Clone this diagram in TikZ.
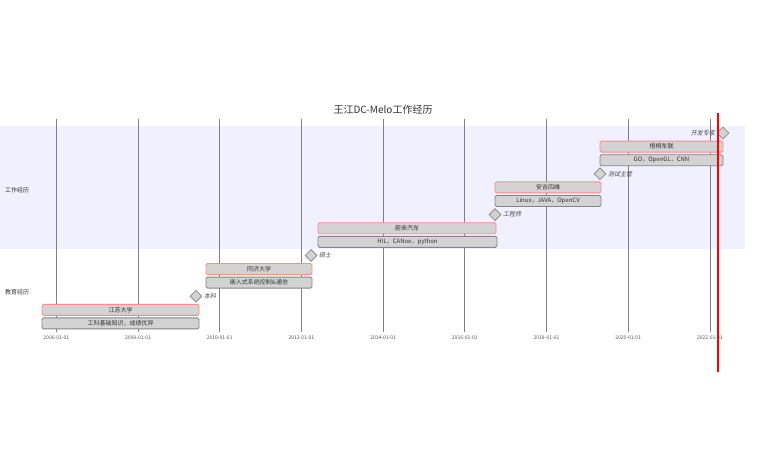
\documentclass[tikz,border=0pt]{standalone}
\usepackage{fontspec}
\setmainfont{Noto Sans CJK SC}
\newfontfamily\slfont{Noto Sans CJK SC}[FakeSlant=0.2]
\usetikzlibrary{shapes.geometric}
\definecolor{secbg}{HTML}{F0F0FF}
\definecolor{barfill}{HTML}{D3D3D3}
\definecolor{critred}{HTML}{FF8A8A}
\definecolor{bargray}{HTML}{858585}
\definecolor{gridc}{HTML}{808080}
\definecolor{txt}{HTML}{333333}
\definecolor{ticktxt}{HTML}{555555}
\tikzset{
  critbar/.style={draw=critred, fill=barfill, line width=0.9pt, rounded corners=1.5pt,
    inner sep=0pt, minimum height=11pt, text=txt, font=\fontsize{6}{7}\selectfont},
  infobar/.style={draw=bargray, fill=barfill, line width=0.9pt, rounded corners=1.5pt,
    inner sep=0pt, minimum height=11pt, text=txt, font=\fontsize{6}{7}\selectfont},
  ms/.style={diamond, draw=gray!90, fill=barfill, line width=0.8pt, inner sep=0pt,
    minimum width=12pt, minimum height=12pt},
  mslabel/.style={inner sep=0pt, text=txt!90, font=\slfont\fontsize{6}{7}\selectfont},
  seclabel/.style={inner sep=0pt, anchor=west, text=txt, font=\fontsize{6}{7}\selectfont},
  ticklabel/.style={inner sep=0pt, text=ticktxt, font=\fontsize{5}{6}\selectfont},
  gridline/.style={draw=gridc, line width=0.8pt},
  todayline/.style={draw=red, line width=1.3pt}
}
\begin{document}
\begin{tikzpicture}[x=1pt,y=-1pt]
\useasboundingbox (0,0) rectangle (766,460);
\fill[white] (0,0) rectangle (766,460);
% section background
\fill[secbg] (0,126.2) rectangle (745,248.6);
% title
\node[inner sep=0pt, text=txt, font=\fontsize{10}{12}\selectfont] (title) at (383,110) {王江DC-Melo工作经历};
% grid and ticks
\foreach \x/\lab [count=\i] in {56.3/2006-01-01,138/2008-01-01,219.7/2010-01-01,301.4/2012-01-01,383.1/2014-01-01,464.8/2016-01-01,546.5/2018-01-01,628.2/2020-01-01,709.9/2022-01-01}{
  \coordinate (gt\i) at (\x,119);
  \coordinate (gb\i) at (\x,332);
  \draw[gridline] (gt\i) -- (gb\i);
  \node[ticklabel] (tl\i) at (\x,338) {\lab};
}
% section labels
\node[seclabel] (sec1) at (5,190) {工作经历};
\node[seclabel] (sec2) at (5,292) {教育经历};
% work rows
\node[ms] (m5) at (723,133) {};
\node[mslabel, anchor=east] (m5l) at (715,133) {开发专家};
\node[critbar, minimum width=123pt] (b9) at (661.5,146.6) {梧桐车联};
\node[infobar, minimum width=123pt] (b9i) at (661.5,160.2) {GO，OpenGL，CNN};
\node[ms] (m4) at (600,173.8) {};
\node[mslabel, anchor=west] (m4l) at (608,173.8) {测试主管};
\node[critbar, minimum width=106pt] (b8) at (548,187.4) {安吉四维};
\node[infobar, minimum width=106pt] (b8i) at (548,201) {Linux，JAVA，OpenCV};
\node[ms] (m3) at (495,214.6) {};
\node[mslabel, anchor=west] (m3l) at (503,214.6) {工程师};
\node[critbar, minimum width=178pt] (b7) at (407,228.2) {蔚来汽车};
\node[infobar, minimum width=179pt] (b7i) at (407.5,241.8) {HIL，CANoe，python};
% education rows
\node[ms] (m2) at (311,255.4) {};
\node[mslabel, anchor=west] (m2l) at (319,255.4) {硕士};
\node[critbar, minimum width=106pt] (b6) at (259,269) {同济大学};
\node[infobar, minimum width=106pt] (b6i) at (259,282.6) {嵌入式系统控制\&通信};
\node[ms] (m1) at (196,296.2) {};
\node[mslabel, anchor=west] (m1l) at (204,296.2) {本科};
\node[critbar, minimum width=157pt] (b5) at (120.5,309.8) {江苏大学};
\node[infobar, minimum width=157pt] (b5i) at (120.5,323.4) {工科基础知识，成绩优异};
% today line
\coordinate (tt) at (718,113);
\coordinate (tb) at (718,372);
\draw[todayline] (tt) -- (tb);
\end{tikzpicture}
\end{document}
